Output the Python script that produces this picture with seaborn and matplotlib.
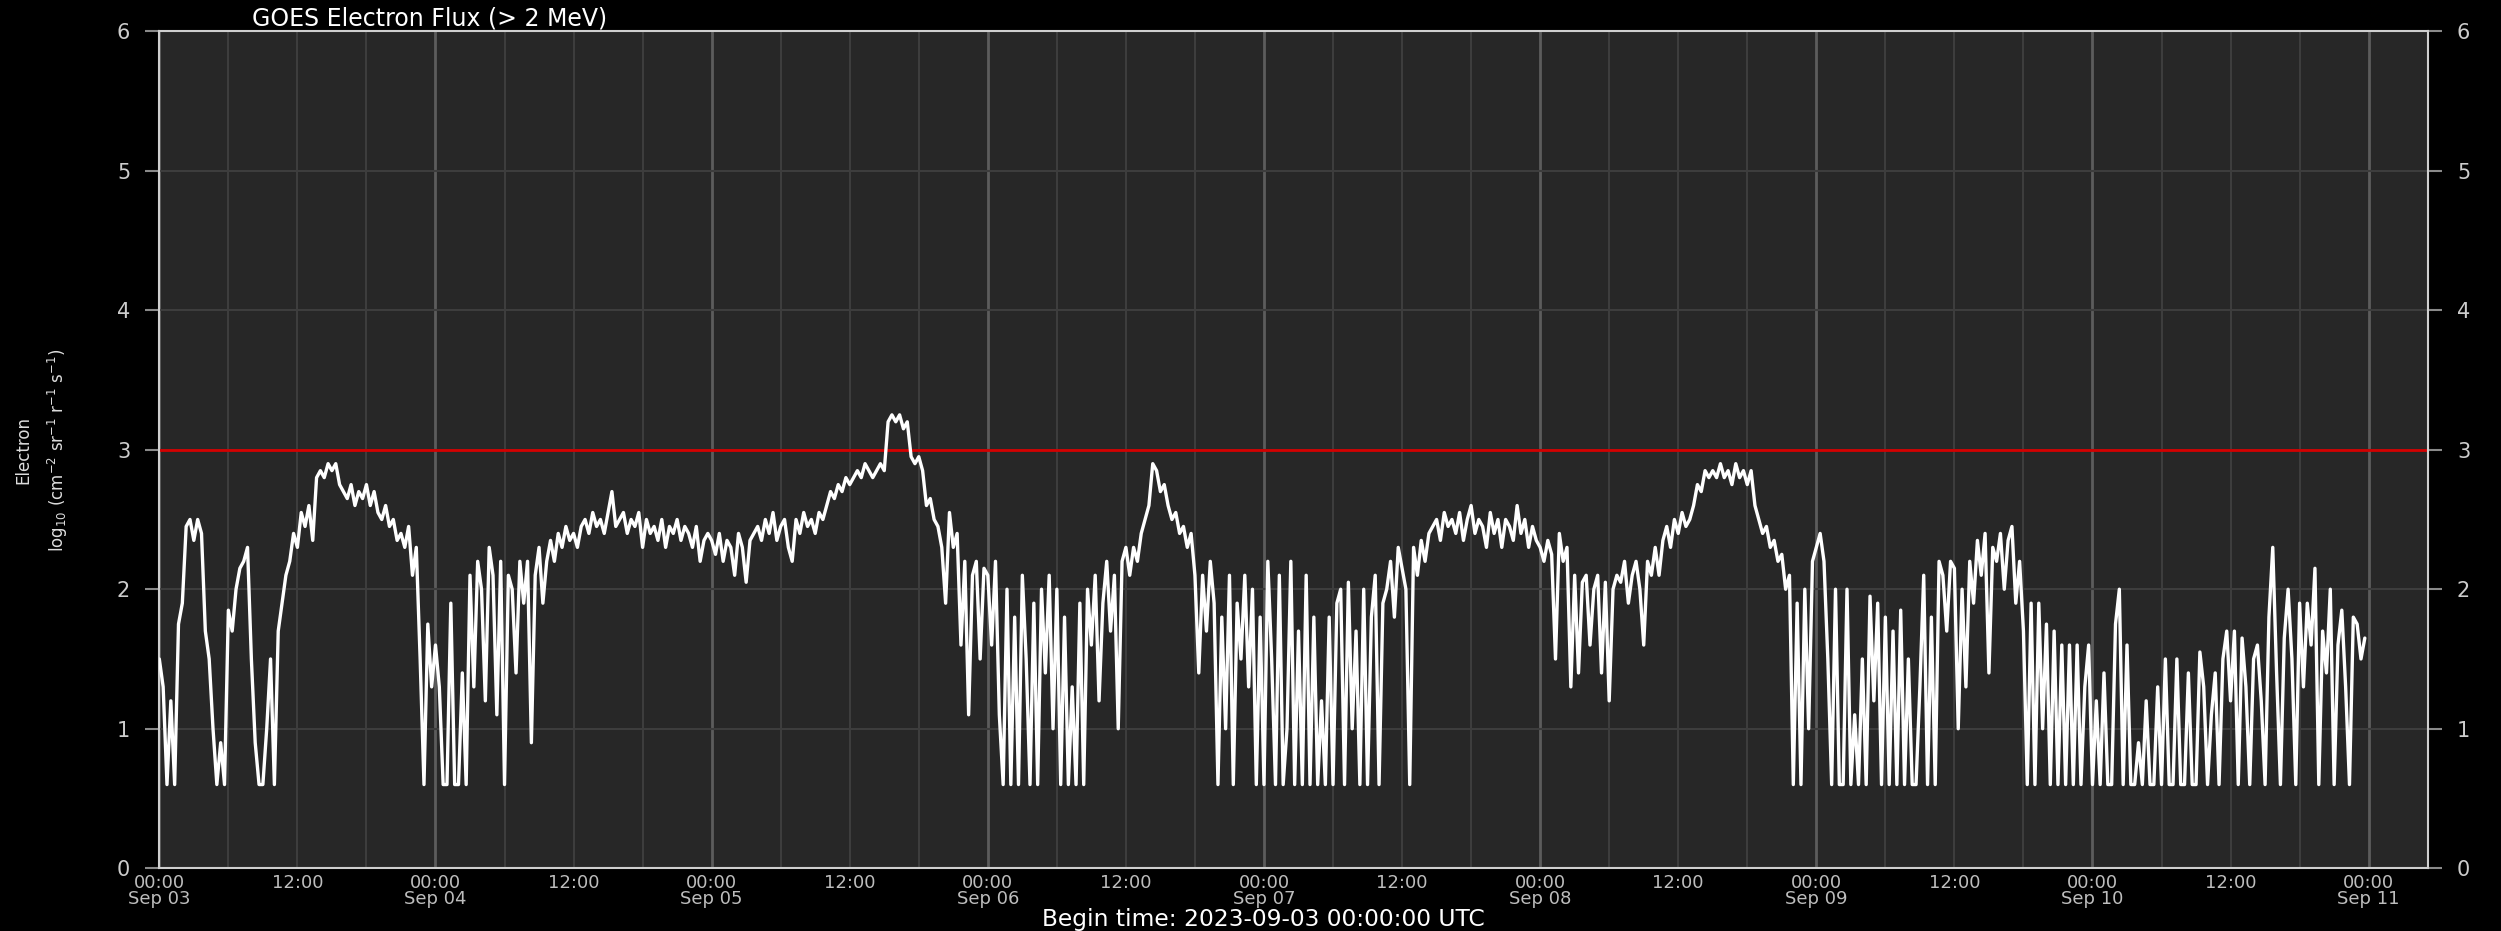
import pandas as pd
import numpy as np
import matplotlib.pyplot as plt
import matplotlib.dates as mdates
from matplotlib.ticker import FuncFormatter
import seaborn as sns

sns.set_theme(style='dark')
plt.rcParams['font.family'] = ['DejaVu Sans']

# log10 electron flux (> 2 MeV), one value every 20 min
sep03 = [1.5, 1.3, 0.6, 1.2, 0.6, 1.75, 1.9, 2.45, 2.5, 2.35, 2.5, 2.4,
         1.7, 1.5, 1.0, 0.6, 0.9, 0.6, 1.85, 1.7, 2.0, 2.15, 2.2, 2.3,
         1.5, 0.9, 0.6, 0.6, 1.0, 1.5, 0.6, 1.7, 1.9, 2.1, 2.2, 2.4,
         2.3, 2.55, 2.45, 2.6, 2.35, 2.8, 2.85, 2.8, 2.9, 2.85, 2.9, 2.75,
         2.7, 2.65, 2.75, 2.6, 2.7, 2.65, 2.75, 2.6, 2.7, 2.55, 2.5, 2.6,
         2.45, 2.5, 2.35, 2.4, 2.3, 2.45, 2.1, 2.3, 1.5, 0.6, 1.75, 1.3]
sep04 = [1.6, 1.3, 0.6, 0.6, 1.9, 0.6, 0.6, 1.4, 0.6, 2.1, 1.3, 2.2,
         2.0, 1.2, 2.3, 2.1, 1.1, 2.2, 0.6, 2.1, 2.0, 1.4, 2.2, 1.9,
         2.2, 0.9, 2.1, 2.3, 1.9, 2.2, 2.35, 2.2, 2.4, 2.3, 2.45, 2.35,
         2.4, 2.3, 2.45, 2.5, 2.4, 2.55, 2.45, 2.5, 2.4, 2.55, 2.7, 2.45,
         2.5, 2.55, 2.4, 2.5, 2.45, 2.55, 2.3, 2.5, 2.4, 2.45, 2.35, 2.5,
         2.3, 2.45, 2.4, 2.5, 2.35, 2.45, 2.4, 2.3, 2.45, 2.2, 2.35, 2.4]
sep05 = [2.35, 2.25, 2.4, 2.2, 2.35, 2.3, 2.1, 2.4, 2.3, 2.05, 2.35, 2.4,
         2.45, 2.35, 2.5, 2.4, 2.55, 2.35, 2.45, 2.5, 2.3, 2.2, 2.5, 2.4,
         2.55, 2.45, 2.5, 2.4, 2.55, 2.5, 2.6, 2.7, 2.65, 2.75, 2.7, 2.8,
         2.75, 2.8, 2.85, 2.8, 2.9, 2.85, 2.8, 2.85, 2.9, 2.85, 3.2, 3.25,
         3.2, 3.25, 3.15, 3.2, 2.95, 2.9, 2.95, 2.85, 2.6, 2.65, 2.5, 2.45,
         2.3, 1.9, 2.55, 2.3, 2.4, 1.6, 2.2, 1.1, 2.1, 2.2, 1.5, 2.15]
sep06 = [2.1, 1.6, 2.2, 1.1, 0.6, 2.0, 0.6, 1.8, 0.6, 2.1, 1.5, 0.6,
         1.9, 0.6, 2.0, 1.4, 2.1, 1.0, 2.0, 0.6, 1.8, 0.6, 1.3, 0.6,
         1.9, 0.6, 2.0, 1.6, 2.1, 1.2, 1.9, 2.2, 1.7, 2.1, 1.0, 2.2,
         2.3, 2.1, 2.3, 2.2, 2.4, 2.5, 2.6, 2.9, 2.85, 2.7, 2.75, 2.6,
         2.5, 2.55, 2.4, 2.45, 2.3, 2.4, 2.1, 1.4, 2.1, 1.7, 2.2, 1.9,
         0.6, 1.8, 1.0, 2.1, 0.6, 1.9, 1.5, 2.1, 1.3, 2.0, 0.6, 1.8]
sep07 = [0.6, 2.2, 1.5, 0.6, 2.1, 0.6, 1.0, 2.2, 0.6, 1.7, 0.6, 2.1,
         0.6, 1.8, 0.6, 1.2, 0.6, 1.8, 0.6, 1.9, 2.0, 0.6, 2.05, 1.0,
         1.7, 0.6, 2.0, 0.6, 1.8, 2.1, 0.6, 1.9, 2.0, 2.2, 1.8, 2.3,
         2.15, 2.0, 0.6, 2.3, 2.1, 2.35, 2.2, 2.4, 2.45, 2.5, 2.35, 2.55,
         2.45, 2.5, 2.4, 2.55, 2.35, 2.5, 2.6, 2.4, 2.5, 2.45, 2.3, 2.55,
         2.4, 2.5, 2.3, 2.5, 2.45, 2.35, 2.6, 2.4, 2.5, 2.3, 2.45, 2.35]
sep08 = [2.3, 2.2, 2.35, 2.25, 1.5, 2.4, 2.2, 2.3, 1.3, 2.1, 1.4, 2.05,
         2.1, 1.6, 2.0, 2.1, 1.4, 2.05, 1.2, 2.0, 2.1, 2.05, 2.2, 1.9,
         2.1, 2.2, 2.0, 1.6, 2.2, 2.1, 2.3, 2.1, 2.35, 2.45, 2.3, 2.5,
         2.4, 2.55, 2.45, 2.5, 2.6, 2.75, 2.7, 2.85, 2.8, 2.85, 2.8, 2.9,
         2.8, 2.85, 2.75, 2.9, 2.8, 2.85, 2.75, 2.85, 2.6, 2.5, 2.4, 2.45,
         2.3, 2.35, 2.2, 2.25, 2.0, 2.1, 0.6, 1.9, 0.6, 2.0, 1.0, 2.2]
sep09 = [2.3, 2.4, 2.2, 1.5, 0.6, 2.0, 0.6, 0.6, 2.0, 0.6, 1.1, 0.6,
         1.5, 0.6, 1.95, 1.2, 1.9, 0.6, 1.8, 0.6, 1.7, 0.6, 1.85, 0.6,
         1.5, 0.6, 0.6, 1.3, 2.1, 0.6, 1.8, 0.6, 2.2, 2.1, 1.7, 2.2,
         2.15, 1.0, 2.0, 1.3, 2.2, 1.9, 2.35, 2.1, 2.4, 1.4, 2.3, 2.2,
         2.4, 2.0, 2.35, 2.45, 1.9, 2.2, 1.7, 0.6, 1.9, 0.6, 1.9, 1.0,
         1.75, 0.6, 1.7, 0.6, 1.6, 0.6, 1.6, 0.6, 1.6, 0.6, 1.3, 1.6]
sep10 = [0.6, 1.2, 0.6, 1.4, 0.6, 0.6, 1.75, 2.0, 0.6, 1.6, 0.6, 0.6,
         0.9, 0.6, 1.2, 0.6, 0.6, 1.3, 0.6, 1.5, 0.6, 0.6, 1.5, 0.6,
         0.6, 1.4, 0.6, 0.6, 1.55, 1.3, 0.6, 1.1, 1.4, 0.6, 1.5, 1.7,
         1.2, 1.7, 0.6, 1.65, 1.3, 0.6, 1.5, 1.6, 1.2, 0.6, 1.8, 2.3,
         1.4, 0.6, 1.65, 2.0, 1.5, 0.6, 1.9, 1.3, 1.9, 1.6, 2.15, 0.6,
         1.7, 1.4, 2.0, 0.6, 1.6, 1.85, 1.3, 0.6, 1.8, 1.75, 1.5, 1.65]

start = '2023-09-03 00:00'
end = '2023-09-11 05:08'
threshold = 3
y_ticks = [0, 1, 2, 3, 4, 5, 6]

flux = sep03 + sep04 + sep05 + sep06 + sep07 + sep08 + sep09 + sep10
df = pd.DataFrame({'time': pd.date_range(start, periods=len(flux), freq='20min'),
                   'flux': flux})

fig = plt.figure(figsize=(25.01, 9.31), dpi=100, facecolor='black')
ax = fig.add_axes([0.0637, 0.0674, 0.9070, 0.8991])
ax.set_facecolor('#272727')

ax.axhline(threshold, color='#d40000', linewidth=2, zorder=2)
sns.lineplot(data=df, x='time', y='flux', color='white', linewidth=2.4, ax=ax, zorder=3)
ax.set_xlabel('')
ax.set_ylabel('')

# x axis: labels at 00:00 and 12:00, grid every 6 h
ax.set_xlim(pd.Timestamp(start), pd.Timestamp(end))
ax.xaxis.set_major_locator(mdates.DayLocator())
ax.xaxis.set_major_formatter(mdates.DateFormatter('%H:%M\n%b %d'))
ax.xaxis.set_minor_locator(mdates.HourLocator(byhour=[6, 12, 18]))
ax.xaxis.set_minor_formatter(
    FuncFormatter(lambda x, pos: '12:00' if mdates.num2date(x).hour == 12 else ''))
ax.tick_params(axis='x', which='both', bottom=True, length=0, labelsize=13,
               labelcolor='#bdbdbd', pad=4)
ax.grid(True, axis='x', which='major', color='#5c5c5c', linewidth=2)
ax.grid(True, axis='x', which='minor', color='#3d3d3d', linewidth=1.5)

# y axis on both sides
ax.set_ylim(0, 6)
ax.set_yticks(y_ticks)
ax.tick_params(axis='y', which='major', left=True, right=True, labelleft=True,
               labelright=True, length=10, width=1.5, color='#8a8a8a',
               labelsize=15, labelcolor='#cccccc', pad=11)
ax.grid(True, axis='y', which='major', color='#3d3d3d', linewidth=1.5)

for s in ax.spines.values():
    s.set_visible(True)
    s.set_color('#cfcfcf')
    s.set_linewidth(1.5)

for lab in ax.get_xticklabels():
    lab.set_linespacing(0.88)

fig.text(0.1008, 0.9724, 'GOES Electron Flux (> 2 MeV)', color='white',
         fontsize=17, ha='left', va='baseline')
fig.text(0.505, 0.0057, 'Begin time: 2023-09-03 00:00:00 UTC', color='white',
         fontsize=16.8, ha='center', va='baseline')
fig.text(0.0092, 0.5166, 'Electron', color='#dddddd', fontsize=12,
         rotation=90, ha='center', va='center')
fig.text(0.0232, 0.5166, r'log$_{10}$ (cm$^{-2}$ sr$^{-1}$ r$^{-1}$ s$^{-1}$)',
         color='#dddddd', fontsize=12, rotation=90, ha='center', va='center')

fig.savefig('out.png', dpi=100, facecolor='black')
